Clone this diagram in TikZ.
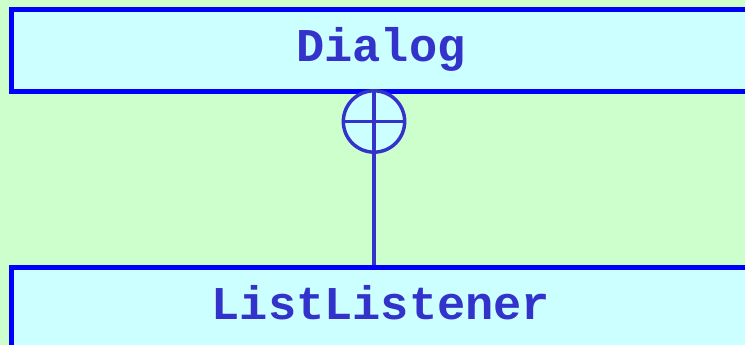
\documentclass[tikz,border=0pt]{standalone}
\usepackage{fontspec}
\newfontfamily\codefont{Liberation Mono}
\definecolor{bgGreen}{HTML}{CCFFCC}
\definecolor{boxCyan}{HTML}{CCFFFF}
\definecolor{edgeBlue}{HTML}{0000FF}
\definecolor{inkBlue}{HTML}{3333CC}
\begin{document}
\begin{tikzpicture}[
    x=0.75pt, y=-0.75pt,
    classbox/.style={
        draw=edgeBlue,
        line width=3.75pt,
        fill=boxCyan,
        minimum width=561.4pt,
        inner sep=0pt
    },
    classname/.style={
        anchor=base,
        text=inkBlue,
        font=\codefont\bfseries\fontsize{35.25}{40}\selectfont
    },
    nestmark/.style={
        circle,
        draw=inkBlue,
        line width=2.6pt,
        fill=boxCyan,
        minimum size=46pt,
        inner sep=0pt
    },
    link/.style={draw=inkBlue, line width=2.6pt}
]

    % page and background
    \useasboundingbox (0,0) rectangle (745,345);
    \clip (0,0) rectangle (745,345);
    \fill[bgGreen] (0,0) rectangle (745,345);

    % outer class
    \node[classbox, minimum height=61.5pt] (dialog) at (385.75,50.5) {};
    \node[classname] (dialogname) at (381,61.5) {Dialog};

    % inner class
    \node[classbox, minimum height=114.75pt] (listener) at (385.75,343.5) {};
    \node[classname] (listenername) at (381,319.5) {ListListener};

    % nesting symbol
    \node[nestmark] (nest) at (374,121.5) {};
    \draw[link] (nest.west) -- (nest.east);
    \draw[link] (nest.north) -- (nest.center |- listener.north);

\end{tikzpicture}
\end{document}
